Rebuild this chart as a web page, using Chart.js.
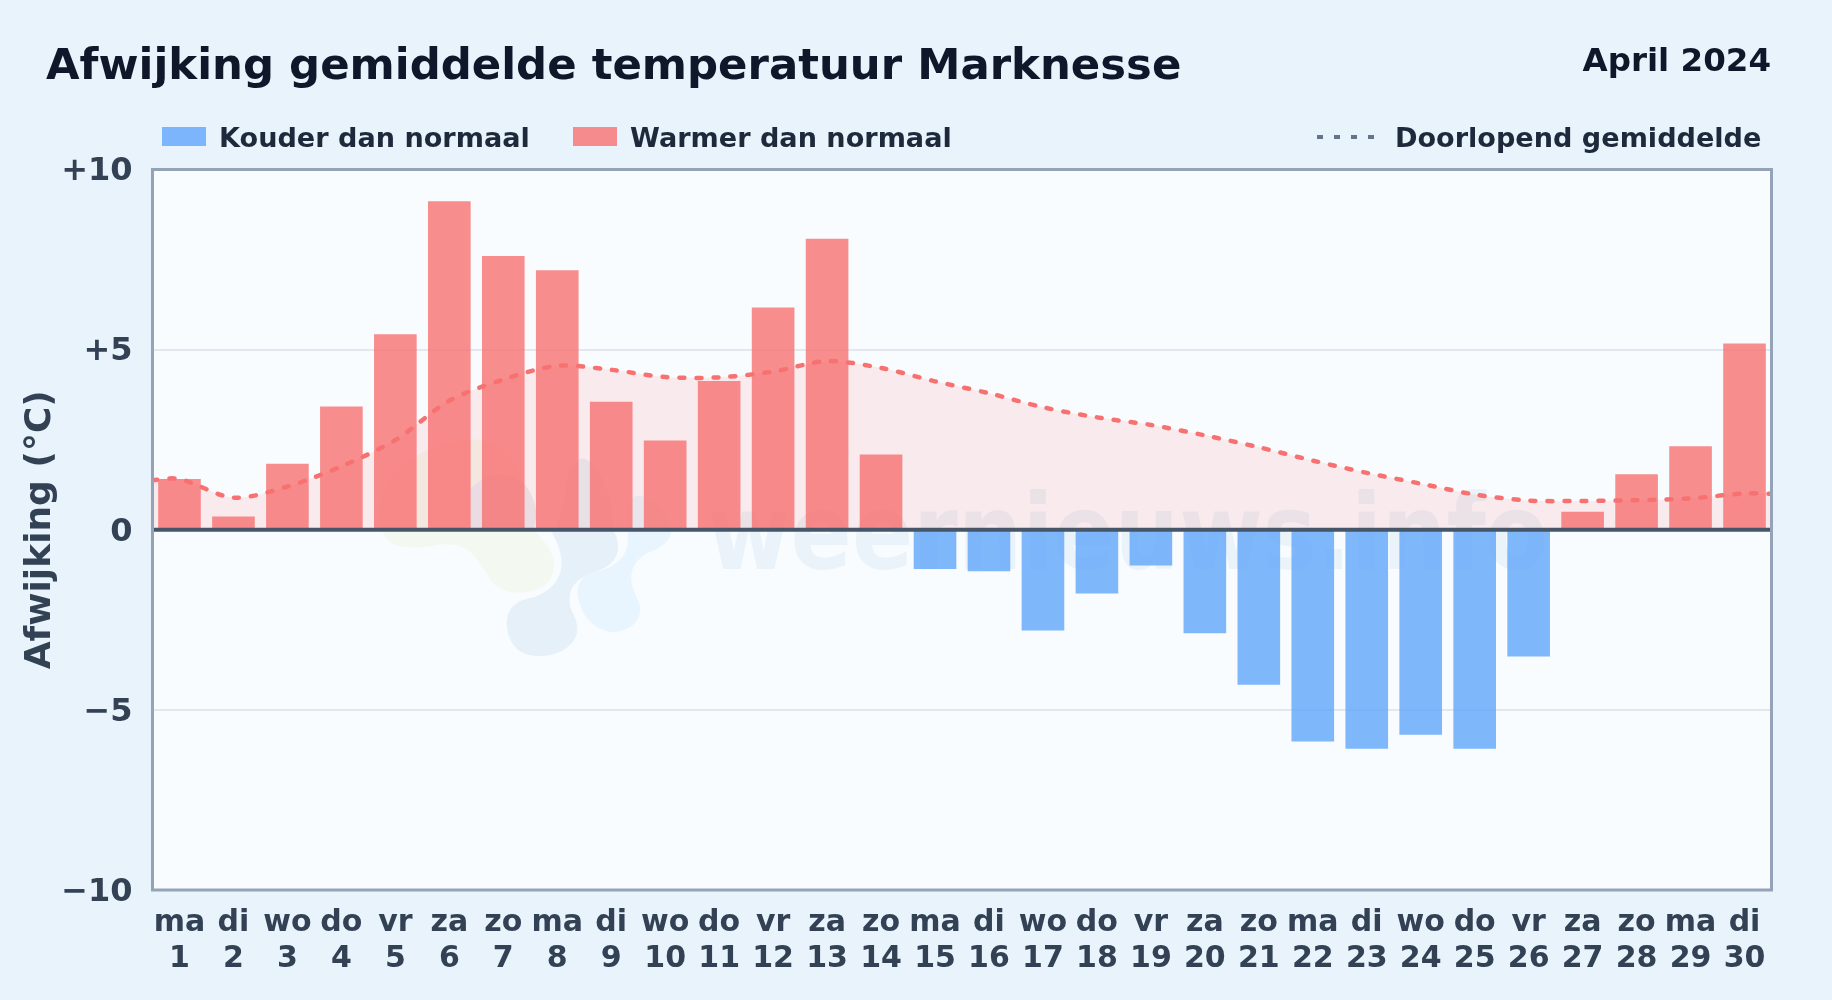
<!DOCTYPE html>
<html lang="nl">
<head>
<meta charset="utf-8">
<title>Afwijking gemiddelde temperatuur Marknesse</title>
<script src="https://cdn.jsdelivr.net/npm/chart.js@4"></script>
<style>
  html, body { margin: 0; padding: 0; }
  body { width: 1832px; height: 1000px; overflow: hidden; background: #e8f3fc; position: relative;
         font-family: "DejaVu Sans", sans-serif; font-weight: bold; }
  canvas { position: absolute; left: 0; top: 0; }
  .txt { position: absolute; white-space: nowrap; line-height: 1; }
  #titel { left: 46px; top: 43px; font-size: 43.4px; color: #0f172a; }
  #maand { right: 61px; top: 44px; font-size: 32.5px; color: #0f172a; }
  .leg { top: 123.5px; font-size: 27.1px; color: #1e293b; }
  .swatch { position: absolute; top: 127px; width: 44px; height: 19px; }
  #dots { position: absolute; left: 1317px; top: 135px; width: 58px; height: 4px;
          background: repeating-linear-gradient(90deg, #64748b 0 6px, transparent 6px 17px); }
</style>
</head>
<body>
<canvas id="grafiek" width="1832" height="1000"></canvas>
<div class="txt" id="titel">Afwijking gemiddelde temperatuur Marknesse</div>
<div class="txt" id="maand">April 2024</div>
<div class="swatch" style="left:162px;background:rgba(96,165,250,.8)"></div>
<div class="txt leg" style="left:219px">Kouder dan normaal</div>
<div class="swatch" style="left:573px;background:rgba(248,113,113,.8)"></div>
<div class="txt leg" style="left:630px">Warmer dan normaal</div>
<div id="dots"></div>
<div class="txt leg" style="left:1395px">Doorlopend gemiddelde</div>

<script>
const dagen = ['ma','di','wo','do','vr','za','zo','ma','di','wo','do','vr','za','zo','ma','di','wo','do','vr','za','zo','ma','di','wo','do','vr','za','zo','ma','di'];
const datums = [1,2,3,4,5,6,7,8,9,10,11,12,13,14,15,16,17,18,19,20,21,22,23,24,25,26,27,28,29,30];
const afwijking = [1.41,0.37,1.83,3.42,5.43,9.12,7.6,7.2,3.55,2.48,4.13,6.17,8.08,2.09,-1.09,-1.15,-2.8,-1.77,-0.99,-2.87,-4.3,-5.88,-6.08,-5.69,-6.08,-3.52,0.5,1.54,2.32,5.17];
const gemiddelde = [1.41,0.89,1.2,1.76,2.49,3.58,4.17,4.55,4.44,4.24,4.23,4.39,4.68,4.49,4.12,3.79,3.4,3.12,2.91,2.62,2.29,1.92,1.58,1.28,0.98,0.81,0.8,0.82,0.87,1.01];
// lijn loopt door tot de randen van het plotvlak
const gemRandLinks = 1.38;
const gemRandRechts = 1.0;
const yTicks = [-10,-5,0,5,10];

const ROOD = 'rgba(248,113,113,.8)';
const BLAUW = 'rgba(96,165,250,.8)';
const FONT = '"DejaVu Sans", sans-serif';

const lijnData = [
  { x: 0.5, y: gemRandLinks },
  ...gemiddelde.map((y, i) => ({ x: datums[i], y })),
  { x: 30.5, y: gemRandRechts },
];

// Logo + tekst als vage achtergrond
function tekenWatermerk(ctx) {
  ctx.save();
  // groene vlek
  ctx.fillStyle = '#f3f9f1';
  ctx.beginPath();
  ctx.moveTo(383, 533);
  ctx.bezierCurveTo(390, 552, 420, 548, 437, 545);
  ctx.bezierCurveTo(470, 540, 478, 560, 493, 583);
  ctx.bezierCurveTo(505, 597, 535, 595, 547, 583);
  ctx.bezierCurveTo(560, 570, 556, 550, 533, 530);
  ctx.bezierCurveTo(530, 480, 510, 435, 465, 440);
  ctx.bezierCurveTo(410, 445, 365, 490, 383, 533);
  ctx.fill();
  // grijsblauwe vlek boven de nullijn
  ctx.fillStyle = '#e8ecf3';
  ctx.beginPath();
  ctx.moveTo(470, 490);
  ctx.bezierCurveTo(485, 470, 525, 465, 535, 505);
  ctx.bezierCurveTo(538, 515, 535, 525, 533, 530);
  ctx.lineTo(470, 530);
  ctx.closePath();
  ctx.fill();
  // donkerblauwe vlek
  ctx.fillStyle = '#e6f0f9';
  ctx.beginPath();
  ctx.moveTo(507, 627);
  ctx.bezierCurveTo(510, 650, 525, 657, 542, 656);
  ctx.bezierCurveTo(565, 655, 580, 640, 577, 625);
  ctx.bezierCurveTo(575, 612, 568, 610, 570, 597);
  ctx.bezierCurveTo(570, 582, 585, 575, 600, 570);
  ctx.bezierCurveTo(620, 562, 622, 545, 613, 530);
  ctx.bezierCurveTo(615, 490, 590, 450, 578, 460);
  ctx.bezierCurveTo(560, 470, 570, 510, 552, 533);
  ctx.bezierCurveTo(568, 560, 565, 585, 535, 597);
  ctx.bezierCurveTo(515, 600, 505, 610, 507, 627);
  ctx.fill();
  // lichtblauwe vlek
  ctx.fillStyle = '#e8f5fe';
  ctx.beginPath();
  ctx.moveTo(578, 597);
  ctx.bezierCurveTo(582, 620, 600, 633, 615, 632);
  ctx.bezierCurveTo(635, 630, 645, 615, 638, 600);
  ctx.bezierCurveTo(628, 580, 628, 565, 647, 553);
  ctx.bezierCurveTo(665, 548, 675, 535, 670, 525);
  ctx.bezierCurveTo(665, 505, 640, 490, 632, 498);
  ctx.bezierCurveTo(625, 510, 630, 535, 627, 547);
  ctx.bezierCurveTo(622, 565, 605, 570, 590, 573);
  ctx.bezierCurveTo(580, 578, 576, 588, 578, 597);
  ctx.fill();
  // tekst
  ctx.fillStyle = 'rgba(100,150,205,.09)';
  ctx.font = 'bold 96px ' + FONT;
  ctx.textBaseline = 'alphabetic';
  ctx.translate(707, 569);
  ctx.scale(1, 1.1);
  ctx.fillText('weernieuws.info', 0, 0, 841);
  ctx.restore();
}

const plotPlugin = {
  id: 'plotvlak',
  beforeDraw(chart) {
    const { ctx, chartArea: a } = chart;
    ctx.fillStyle = '#f8fcff';
    ctx.fillRect(a.left, a.top, a.width, a.height);
    tekenWatermerk(ctx);
  },
  afterDraw(chart) {
    const { ctx, chartArea: a, scales } = chart;
    ctx.save();
    const y0 = scales.y.getPixelForValue(0);
    ctx.strokeStyle = '#475569';
    ctx.lineWidth = 4;
    ctx.beginPath();
    ctx.moveTo(a.left, y0);
    ctx.lineTo(a.right, y0);
    ctx.stroke();
    ctx.strokeStyle = '#94a3b8';
    ctx.lineWidth = 3;
    ctx.strokeRect(a.left, a.top, a.width, a.height);
    ctx.restore();
  },
};

new Chart(document.getElementById('grafiek'), {
  data: {
    labels: datums,
    datasets: [
      {
        type: 'line',
        data: lijnData,
        xAxisID: 'xLijn',
        order: 0,
        borderColor: '#f87171',
        borderWidth: 4.5,
        borderDash: [5, 12],
        borderCapStyle: 'round',
        tension: 0.3,
        pointRadius: 0,
        fill: { value: 0 },
        backgroundColor: 'rgba(248,113,113,.13)',
      },
      {
        type: 'bar',
        data: afwijking,
        order: 1,
        grouped: false,
        categoryPercentage: 1,
        barPercentage: 0.79,
        backgroundColor: afwijking.map((v) => (v < 0 ? BLAUW : ROOD)),
      },
    ],
  },
  options: {
    responsive: false,
    animation: false,
    layout: { padding: { top: 169.5, right: 60.5, left: 0, bottom: 0 } },
    plugins: {
      legend: { display: false },
      tooltip: { enabled: false },
      filler: { drawTime: 'beforeDatasetsDraw' },
    },
    scales: {
      x: {
        offset: true,
        afterFit: (s) => { s.height = 110; },
        grid: { display: false },
        border: { display: false },
        ticks: {
          color: '#334155',
          font: { family: FONT, weight: 'bold', size: 30 },
          padding: 7,
          maxRotation: 0,
          autoSkip: false,
          callback: (v, i) => [dagen[i], String(datums[i])],
        },
      },
      xLijn: { type: 'linear', display: false, min: 0.5, max: 30.5 },
      y: {
        min: -10,
        max: 10,
        afterFit: (s) => { s.width = 152.5; },
        afterBuildTicks: (s) => { s.ticks = yTicks.map((value) => ({ value })); },
        grid: { color: '#e2e8f0', lineWidth: 2, drawTicks: false },
        border: { display: false },
        title: {
          display: true,
          text: 'Afwijking (°C)',
          color: '#334155',
          font: { family: FONT, weight: 'bold', size: 36 },
          padding: { top: 19, bottom: 0 },
        },
        ticks: {
          color: '#334155',
          font: { family: FONT, weight: 'bold', size: 32 },
          padding: 20,
          labelOffset: 2.5,
          callback: (v) => (v > 0 ? '+' + v : v < 0 ? '−' + Math.abs(v) : '0'),
        },
      },
    },
  },
  plugins: [plotPlugin],
});
</script>
</body>
</html>
